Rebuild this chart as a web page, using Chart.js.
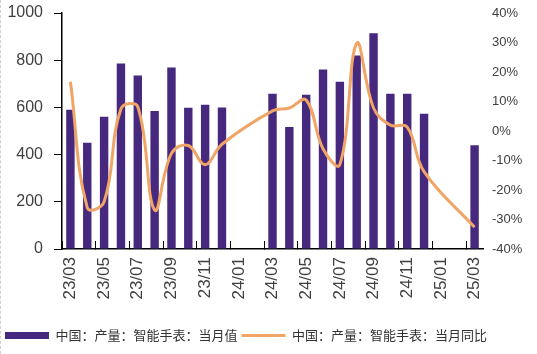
<!DOCTYPE html>
<html>
<head>
<meta charset="utf-8">
<script src="https://cdn.jsdelivr.net/npm/chart.js@4"></script>
<style>
  html, body { margin: 0; padding: 0; background: #fff; overflow: hidden; }
  #wrap { position: absolute; left: 0; top: 0; width: 640px; height: 354px; }
  #edge { position: absolute; left: 0; top: 0; width: 0; height: 354px; border-left: 1px dashed #d0d0d0; }
</style>
</head>
<body>
<div id="wrap"><canvas id="chart" width="640" height="354"></canvas></div>
<div id="edge"></div>
<script>
// months 23/03 .. 25/03
const months = ['23/03','23/04','23/05','23/06','23/07','23/08','23/09','23/10','23/11','23/12',
  '24/01','24/02','24/03','24/04','24/05','24/06','24/07','24/08','24/09','24/10','24/11','24/12',
  '25/01','25/02','25/03'];
// 当月值 (万个)
const output = [590,450,560,786,735,585,769,598,611,600,null,null,
  658,517,654,761,709,820,914,658,658,573,null,null,440];
// 当月同比 (%)
const yoy = [16.7,-26,-24,7.5,8.2,-26.8,-7.6,-4.9,-11.4,-4.5,null,null,
  6.8,7.8,10.5,-6,-11.4,29.7,7.8,2,1.3,-13.8,null,null,-32.6];
const leftTicks = [0, 200, 400, 600, 800, 1000];
const rightTicks = [-40, -30, -20, -10, 0, 10, 20, 30, 40];

const purple = '#47287f';
const orange = '#f0a466';
const txt = '#404040';

new Chart(document.getElementById('chart'), {
  data: {
    labels: months,
    datasets: [
      {type: 'bar', label: '中国：产量：智能手表：当月值', data: output, yAxisID: 'y',
        backgroundColor: purple, borderWidth: 0, barPercentage: 0.5, categoryPercentage: 1, order: 1},
      {type: 'line', label: '中国：产量：智能手表：当月同比', data: yoy, yAxisID: 'y1',
        borderColor: orange, borderWidth: 3, pointRadius: 0, tension: 0.4, spanGaps: true, order: 0}
    ]
  },
  options: {
    responsive: false,
    animation: false,
    layout: {padding: {left: 1, top: 13, right: 0, bottom: 2}},
    plugins: {
      tooltip: {enabled: false},
      legend: {
        position: 'bottom', align: 'start',
        labels: {
          usePointStyle: true, pointStyleWidth: 44, boxHeight: 7, padding: 4,
          color: '#333', font: {family: '"Noto Sans CJK SC"', size: 13},
          sort: (a, b) => a.datasetIndex - b.datasetIndex,
          generateLabels: chart => {
            const items = Chart.defaults.plugins.legend.labels.generateLabels(chart);
            items.forEach(it => {
              if (it.datasetIndex === 0) { it.pointStyle = 'rect'; it.lineWidth = 0; }
              else { it.pointStyle = 'line'; it.lineWidth = 3; it.strokeStyle = orange; }
            });
            return items;
          }
        }
      }
    },
    scales: {
      x: {
        offset: true,
        afterFit: s => { s.height = 76; },
        border: {display: true, color: '#000', width: 1.5},
        grid: {drawOnChartArea: false, drawTicks: true, tickLength: -8,
          color: c => (c.index !== undefined && c.index % 2 === 0) ? '#000' : 'rgba(0,0,0,0)'},
        ticks: {autoSkip: false, minRotation: 90, maxRotation: 90, padding: 16,
          color: txt, font: {family: 'Liberation Sans', size: 17},
          callback: (v, i) => i % 2 === 0 ? months[i] : ''}
      },
      y: {
        position: 'left', min: 0, max: 1000,
        afterFit: s => { s.width = 61; s.paddingTop = 0; s.paddingBottom = 0; },
        afterBuildTicks: s => { s.ticks = leftTicks.map(v => ({value: v})); },
        border: {display: true, color: '#000', width: 1.5},
        grid: {drawOnChartArea: false, drawTicks: true, tickLength: 8, color: '#000'},
        ticks: {padding: 11, color: txt, font: {family: 'Liberation Sans', size: 16},
          callback: v => String(v)}
      },
      y1: {
        position: 'right', min: -40, max: 40,
        afterFit: s => { s.width = 157; s.paddingTop = 0; s.paddingBottom = 0; },
        afterBuildTicks: s => { s.ticks = rightTicks.map(v => ({value: v})); },
        border: {display: false},
        grid: {drawOnChartArea: false, drawTicks: false},
        ticks: {padding: 9, color: txt, font: {family: 'Liberation Sans', size: 13},
          callback: v => v + '%'}
      }
    }
  }
});
</script>
</body>
</html>
